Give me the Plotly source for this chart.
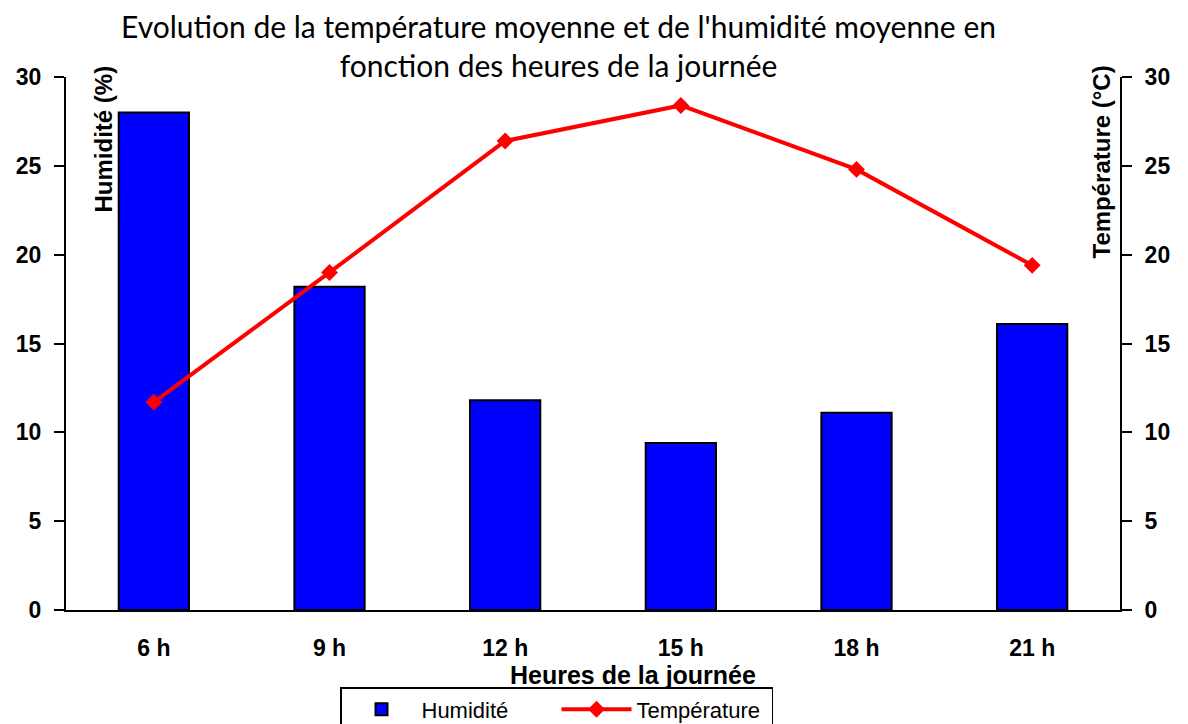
import plotly.graph_objects as go

heures = ["6 h", "9 h", "12 h", "15 h", "18 h", "21 h"]
humidite = [28.0, 18.2, 11.8, 9.4, 11.1, 16.1]
temperature = [11.7, 19.0, 26.4, 28.4, 24.8, 19.4]
y_ticks = [0, 5, 10, 15, 20, 25, 30]

xpos = list(range(len(heures)))
bounds = [i - 0.5 for i in range(len(heures) + 1)]

fig = go.Figure()
fig.add_trace(go.Bar(
    x=xpos, y=humidite, name="Humidité", width=0.4,
    marker=dict(color="#0000FF", line=dict(color="black", width=2)),
    xaxis="x", yaxis="y",
))
fig.add_trace(go.Scatter(
    x=xpos, y=temperature, name="Température", mode="lines+markers",
    line=dict(color="#FF0000", width=4),
    marker=dict(symbol="diamond", size=13, color="#FF0000"),
    xaxis="x", yaxis="y2",
))

AR = "Liberation Sans, Arial"
tickfont = dict(family=AR, size=23, color="black")
rng = [0, 30]
W, H = 1188, 724
L, R, T, B = 66, 1120, 77, 610
pw, ph = R - L, B - T

fig.update_layout(
    width=W, height=H,
    margin=dict(l=L, r=W - R, t=T, b=H - B, autoexpand=False),
    paper_bgcolor="white", plot_bgcolor="white",
    showlegend=True,
    xaxis=dict(range=[-0.5, 5.5], tickvals=xpos, ticktext=["<b>%s</b>" % h for h in heures],
               ticks="", showline=True, linecolor="black", linewidth=2, showgrid=False,
               zeroline=False, tickfont=tickfont, anchor="y", ticklabelstandoff=16),
    xaxis2=dict(range=[-0.5, 5.5], overlaying="x", anchor="y", side="bottom",
                tickvals=bounds, ticks="outside", ticklen=10, tickwidth=2, tickcolor="black",
                showticklabels=False, showline=False, showgrid=False, zeroline=False),
    xaxis3=dict(range=[-0.5, 5.5], overlaying="x", anchor="y", side="bottom",
                tickvals=bounds, ticks="inside", ticklen=10, tickwidth=2, tickcolor="black",
                showticklabels=False, showline=False, showgrid=False, zeroline=False),
    yaxis=dict(range=rng, tickvals=y_ticks, ticktext=["<b>%d</b>" % v for v in y_ticks],
               ticks="outside", ticklen=10, tickwidth=2, tickcolor="black",
               showline=True, linecolor="black", linewidth=2, showgrid=False, zeroline=False,
               tickfont=tickfont, anchor="x", ticklabelstandoff=8),
    yaxis2=dict(range=rng, tickvals=y_ticks, ticktext=["<b>%d</b>" % v for v in y_ticks],
                overlaying="y", side="right", anchor="x",
                ticks="outside", ticklen=10, tickwidth=2, tickcolor="black",
                showline=True, linecolor="black", linewidth=2, showgrid=False, zeroline=False,
                tickfont=tickfont, ticklabelstandoff=8),
    yaxis3=dict(range=rng, tickvals=y_ticks, overlaying="y", side="left", anchor="x",
                ticks="inside", ticklen=10, tickwidth=2, tickcolor="black",
                showticklabels=False, showline=False, showgrid=False, zeroline=False),
    yaxis4=dict(range=rng, tickvals=y_ticks, overlaying="y", side="right", anchor="x",
                ticks="inside", ticklen=10, tickwidth=2, tickcolor="black",
                showticklabels=False, showline=False, showgrid=False, zeroline=False),
    legend=dict(orientation="h", xref="paper", yref="container",
                x=(340 - L) / pw, y=1 - 687 / H, xanchor="left", yanchor="top",
                bordercolor="black", borderwidth=1.5, bgcolor="white",
                font=dict(family=AR, size=22, color="black"),
                itemwidth=70, entrywidth=130, tracegroupgap=0),
    annotations=[
        dict(text="Evolution de la température moyenne et de l'humidité moyenne en<br>fonction des heures de la journée",
             xref="paper", yref="paper", x=(558 - L) / pw, y=(B - 6) / ph,
             xanchor="center", yanchor="top", showarrow=False, align="center",
             font=dict(family="Lato, Open Sans", size=30, color="black")),
        dict(text="<b>Heures de la journée</b>", xref="paper", yref="paper",
             x=(633 - L) / pw, y=(B - 675) / ph, xanchor="center", yanchor="middle",
             showarrow=False, font=dict(family=AR, size=25, color="black")),
        dict(text="<b>Humidité (%)</b>", xref="paper", yref="paper", textangle=-90,
             x=(103 - L) / pw, y=(B - 64) / ph, xanchor="center", yanchor="top",
             showarrow=False, font=dict(family=AR, size=24, color="black")),
        dict(text="<b>Température (°C)</b>", xref="paper", yref="paper", textangle=-90,
             x=(1101 - L) / pw, y=(B - 64) / ph, xanchor="center", yanchor="top",
             showarrow=False, font=dict(family=AR, size=24, color="black")),
    ],
)

fig.write_html("out.html", post_script="document.body.style.margin='0';",
               config={"displayModeBar": False})
